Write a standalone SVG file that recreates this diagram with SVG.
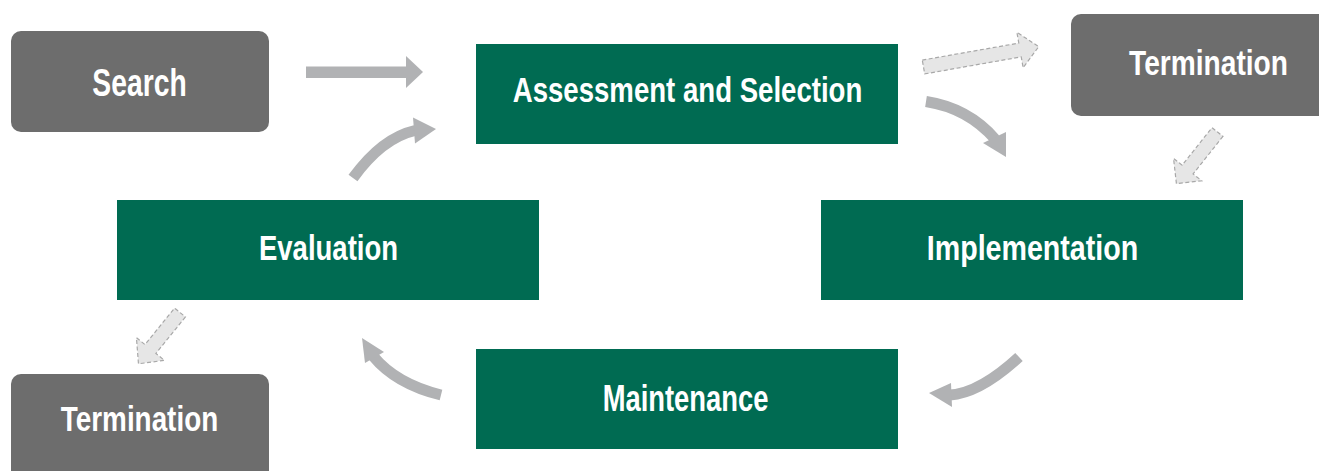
<svg xmlns="http://www.w3.org/2000/svg" width="1319" height="471" viewBox="0 0 1319 471">
  <style>
    .grey { fill: #6d6d6d; }
    .green { fill: #006b52; }
    .label { font-family: "Liberation Sans", Arial, sans-serif; font-weight: bold; font-size: 36px; fill: #ffffff; text-anchor: middle; }
    .flow { fill: none; stroke: #b1b2b4; stroke-width: 11; }
    .flowhead { fill: #b1b2b4; }
    .exit { fill: #e6e6e6; stroke: #a8a8a8; stroke-width: 1.2; stroke-dasharray: 4 2.5; }
  </style>

  <!-- process nodes; labels are condensed with a horizontal scale -->
  <g id="search">
    <rect class="grey" x="11" y="31" width="258" height="101" rx="10"/>
    <text class="label" transform="translate(139.5,96) scale(0.72,1)" style="font-size:39px" textLength="131" lengthAdjust="spacingAndGlyphs">Search</text>
  </g>
  <g id="assessment">
    <rect class="green" x="476" y="44" width="422" height="100"/>
    <text class="label" transform="translate(687.5,102) scale(0.76,1)" textLength="460" lengthAdjust="spacingAndGlyphs">Assessment and Selection</text>
  </g>
  <g id="termination-top">
    <!-- box runs to the right edge, only the left corners rounded -->
    <path class="grey" d="M1081,14 H1319 V116 H1081 A10,10 0 0 1 1071,106 V24 A10,10 0 0 1 1081,14 Z"/>
    <text class="label" transform="translate(1208.5,75) scale(0.76,1)" textLength="209" lengthAdjust="spacingAndGlyphs">Termination</text>
  </g>
  <g id="evaluation">
    <rect class="green" x="117" y="200" width="422" height="100"/>
    <text class="label" transform="translate(328.5,260) scale(0.76,1)" textLength="183" lengthAdjust="spacingAndGlyphs">Evaluation</text>
  </g>
  <g id="implementation">
    <rect class="green" x="821" y="200" width="422" height="100"/>
    <text class="label" transform="translate(1032.5,260) scale(0.78,1)" textLength="271" lengthAdjust="spacingAndGlyphs">Implementation</text>
  </g>
  <g id="maintenance">
    <rect class="green" x="476" y="349" width="422" height="100"/>
    <text class="label" transform="translate(685.5,411) scale(0.75,1)" textLength="221" lengthAdjust="spacingAndGlyphs">Maintenance</text>
  </g>
  <g id="termination-bottom">
    <!-- box runs to the bottom edge, only the top corners rounded -->
    <path class="grey" d="M21,374 H259 A10,10 0 0 1 269,384 V471 H11 V384 A10,10 0 0 1 21,374 Z"/>
    <text class="label" transform="translate(139.5,431) scale(0.76,1)" textLength="207" lengthAdjust="spacingAndGlyphs">Termination</text>
  </g>

  <!-- connectors -->
  <g id="connectors">
    <!-- Search to Assessment -->
    <polygon class="flowhead" points="306,66.5 406,66.5 406,56 423,72 406,88 406,78 306,78"/>
    <!-- Evaluation to Assessment -->
    <path class="flow" d="M353,178 Q382,138 415,130.5"/>
    <polygon class="flowhead" points="413,117.5 436,129 415,143.5"/>
    <!-- Assessment to Implementation -->
    <path class="flow" d="M926,101.5 Q968,108 995,139"/>
    <polygon class="flowhead" points="983,143 1006,157 1006,132"/>
    <!-- Implementation to Maintenance -->
    <path class="flow" d="M1019,357 Q980,393 950,395"/>
    <polygon class="flowhead" points="951,383 929,393 952,407"/>
    <!-- Maintenance to Evaluation -->
    <path class="flow" d="M441,395 Q396,384 373,356"/>
    <polygon class="flowhead" points="384,352 362,338 365,363"/>
    <!-- exits to termination (dashed) -->
    <polygon class="exit" transform="translate(923.5,67) rotate(-10)" points="0,-7 98,-7 98,-18 117,0 98,18 98,7 0,7"/>
    <polygon class="exit" transform="translate(1217.5,132) rotate(128.5)" points="0,-7 48,-7 48,-18 66,0 48,18 48,7 0,7"/>
    <polygon class="exit" transform="translate(180,312.5) rotate(129)" points="0,-7 47,-7 47,-18 66,0 47,18 47,7 0,7"/>
  </g>
</svg>
